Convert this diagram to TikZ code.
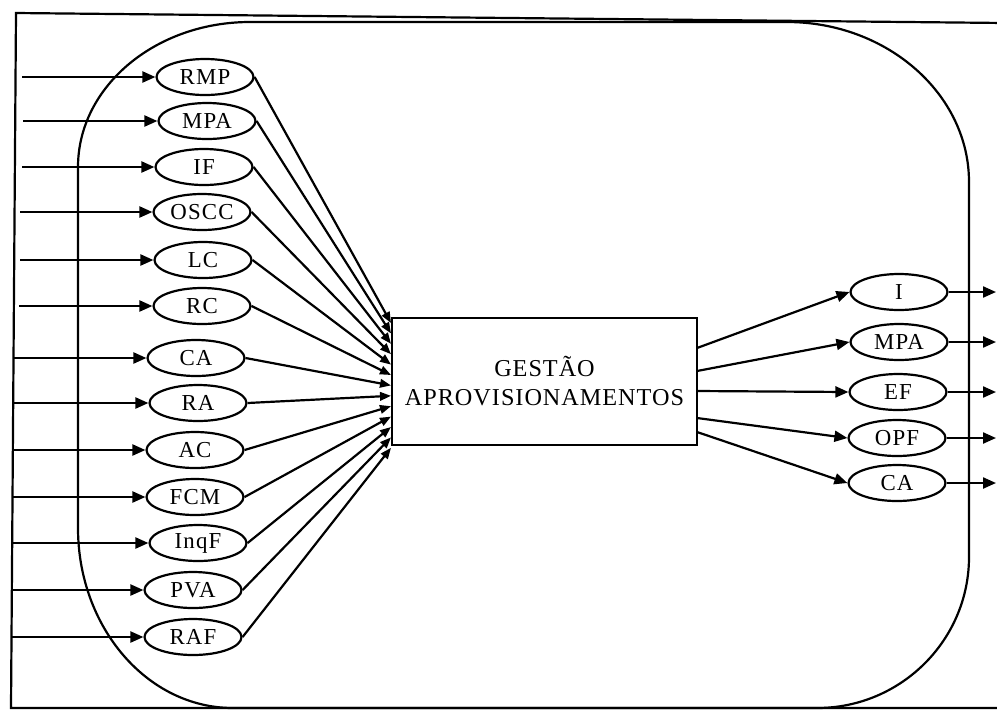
\documentclass[tikz,border=0pt]{standalone}
\usepackage{fontspec}
\setmainfont{Liberation Serif}
\newfontfamily\lblfont[LetterSpace=5]{Liberation Serif}
\newfontfamily\boxfont[LetterSpace=4]{Liberation Serif}
\usetikzlibrary{shapes.geometric,arrows.meta}
\begin{document}
\begin{tikzpicture}[x=0.02cm,y=-0.02cm,line width=1.25pt,
  oval/.style={draw,ellipse,minimum width=1.94cm,minimum height=0.72cm,inner sep=0pt,
    font=\lblfont\fontsize{13}{14}\selectfont},
  arr/.style={-{Triangle[length=0.26cm,width=0.22cm]}},
  fin/.style={-{Triangle[length=0.22cm,width=0.17cm]}},
  procbox/.style={draw,line width=1.5pt,minimum width=6.1cm,minimum height=2.54cm,align=center,
    font=\boxfont\fontsize{13.8}{16.5}\selectfont}]
\useasboundingbox (0,0) rectangle (997,711);

% outer frame (open on the right)
\begin{scope}
\clip (0,0) rectangle (997,711);
\draw (1005,23) -- (16,13) -- (11,708) -- (1005,708);
\end{scope}

% system boundary
\draw (78,167) .. controls (78,87) and (155,22) .. (250,22) -- (787,22)
  .. controls (887,22) and (969,94) .. (969,182) -- (969,557)
  .. controls (969,640) and (901,708) .. (817,708) -- (233,708)
  .. controls (147,708) and (78,627) .. (78,528) -- cycle;

% central process
\node[procbox] (box) at (544.5,381.5) {GESTÃO\\APROVISIONAMENTOS};

% inputs
\node[oval] (i1) at (205,77) {RMP};
\node[oval] (i2) at (207,121) {MPA};
\node[oval] (i3) at (204,167) {IF};
\node[oval] (i4) at (202,212) {OSCC};
\node[oval] (i5) at (203,260) {LC};
\node[oval] (i6) at (202,306) {RC};
\node[oval] (i7) at (196,358) {CA};
\node[oval] (i8) at (198,403) {RA};
\node[oval] (i9) at (195,450) {AC};
\node[oval] (i10) at (195,497) {FCM};
\node[oval] (i11) at (198,543) {InqF};
\node[oval] (i12) at (193,590) {PVA};
\node[oval] (i13) at (193,637) {RAF};

% left ends of the incoming arrows
\coordinate (s1) at (22,0);
\coordinate (s2) at (23,0);
\coordinate (s3) at (22,0);
\coordinate (s4) at (20,0);
\coordinate (s5) at (20,0);
\coordinate (s6) at (19,0);
\coordinate (s7) at (14,0);
\coordinate (s8) at (14,0);
\coordinate (s9) at (13,0);
\coordinate (s10) at (12,0);
\coordinate (s11) at (12,0);
\coordinate (s12) at (11,0);
\coordinate (s13) at (11,0);

\foreach \k in {1,...,13}{
  \draw[arr] (s\k |- i\k.west) -- (i\k.west);
  \coordinate (t\k) at (391,{323+(\k-1)*10.4});
  \draw[fin] (i\k.east) -- (t\k);
}

% outputs
\node[oval] (o1) at (899,292) {I};
\node[oval] (o2) at (899,342) {MPA};
\node[oval] (o3) at (898,392) {EF};
\node[oval] (o4) at (897,438) {OPF};
\node[oval] (o5) at (897,483) {CA};

\coordinate (b1) at (697,348);
\coordinate (b2) at (697,371);
\coordinate (b3) at (697,391);
\coordinate (b4) at (697,418);
\coordinate (b5) at (697,432);

\foreach \k in {1,...,5}{
  \draw[arr] (b\k) -- (o\k.west);
  \coordinate (e\k) at (996,0);
  \draw[arr] (o\k.east) -- (e\k |- o\k.east);
}
\end{tikzpicture}
\end{document}
